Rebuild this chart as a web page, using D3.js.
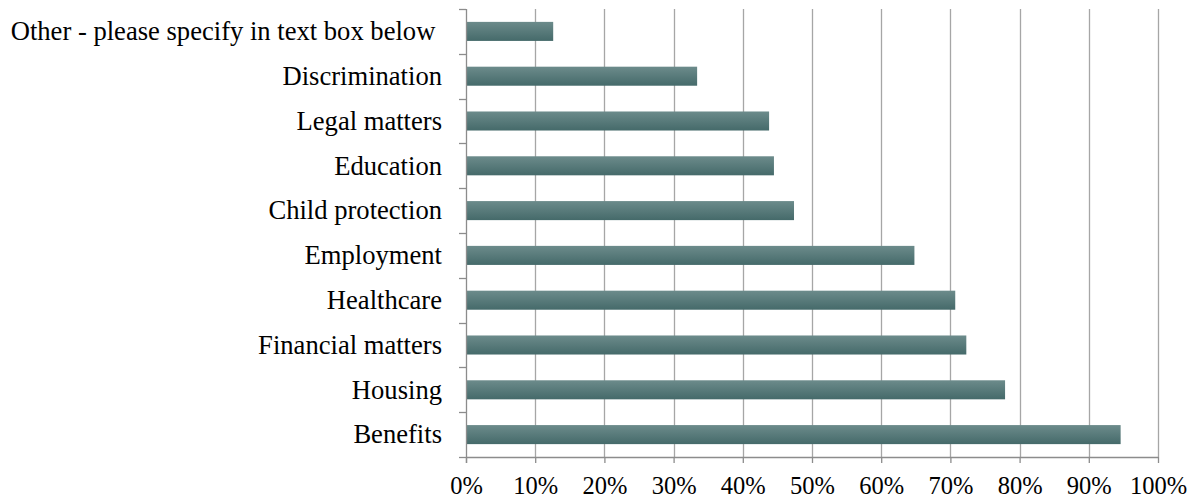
<!DOCTYPE html>
<html>
<head>
<meta charset="utf-8">
<script src="https://cdn.jsdelivr.net/npm/d3@7"></script>
<style>
  html, body { margin: 0; padding: 0; background: #fff; }
  svg text { font-family: "Liberation Serif", "Times New Roman", serif; fill: #000; }
</style>
</head>
<body>
<svg id="chart" width="1191" height="502"></svg>
<script>
// Share of respondents selecting each area (bottom to top in the chart)
const categories = [
  "Benefits",
  "Housing",
  "Financial matters",
  "Healthcare",
  "Employment",
  "Child protection",
  "Education",
  "Legal matters",
  "Discrimination",
  "Other - please specify in text box below "
];
const values = [94.6, 77.9, 72.3, 70.7, 64.8, 47.4, 44.5, 43.8, 33.4, 12.6];
const tickValues = [0, 10, 20, 30, 40, 50, 60, 70, 80, 90, 100];

const svg = d3.select("#chart");
const margin = { left: 466, right: 33, top: 9, bottom: 45 };
const width = 1191, height = 502;
const plotW = width - margin.left - margin.right;
const plotH = height - margin.top - margin.bottom;

const x = d3.scaleLinear().domain([0, 100]).range([0, plotW]);
// Categories listed top-to-bottom: reverse so Benefits sits at the bottom
const y = d3.scaleBand()
  .domain(categories.slice().reverse())
  .range([0, plotH])
  .paddingInner(0.575)
  .paddingOuter(0.2875);

const defs = svg.append("defs");
const grad = defs.append("linearGradient")
  .attr("id", "barGrad").attr("x1", 0).attr("y1", 0).attr("x2", 0).attr("y2", 1);
grad.append("stop").attr("offset", "0%").attr("stop-color", "#6c8b8b");
grad.append("stop").attr("offset", "100%").attr("stop-color", "#456a6a");

const g = svg.append("g").attr("transform", `translate(${margin.left},${margin.top})`);

// Vertical gridlines
g.append("g")
  .selectAll("line")
  .data(tickValues.filter(d => d > 0))
  .join("line")
  .attr("x1", d => Math.round(x(d)) + 0.5)
  .attr("x2", d => Math.round(x(d)) + 0.5)
  .attr("y1", 0)
  .attr("y2", plotH)
  .attr("stroke", "#a6a6a6")
  .attr("stroke-width", 1.3);

// Bars
const data = categories.map((c, i) => ({ c, v: values[i] }));
g.append("g")
  .selectAll("rect")
  .data(data)
  .join("rect")
  .attr("x", 0)
  .attr("y", d => y(d.c))
  .attr("width", d => x(d.v))
  .attr("height", y.bandwidth())
  .attr("fill", "url(#barGrad)");

// Bottom axis
const xAxis = d3.axisBottom(x)
  .tickValues(tickValues)
  .tickFormat(d => d + "%")
  .tickSizeInner(6)
  .tickSizeOuter(0)
  .tickPadding(14);
const xg = g.append("g").attr("transform", `translate(0,${plotH})`).call(xAxis);
xg.select(".domain").attr("stroke", "#8c8c8c").attr("stroke-width", 1.3);
xg.selectAll(".tick line").attr("stroke", "#8c8c8c").attr("stroke-width", 1.3);
xg.selectAll(".tick text")
  .attr("font-size", 24.5)
  .attr("font-family", "Liberation Serif, Times New Roman, serif")
  .attr("fill", "#000");

// Left axis: ticks at category boundaries, labels centred on bands
const step = plotH / categories.length;
const yg = g.append("g");
yg.append("line")
  .attr("x1", 0.5).attr("x2", 0.5)
  .attr("y1", 0).attr("y2", plotH + 6)
  .attr("stroke", "#8c8c8c").attr("stroke-width", 1.3);
yg.selectAll("line.tick")
  .data(d3.range(categories.length + 1))
  .join("line")
  .attr("class", "tick")
  .attr("x1", -7).attr("x2", 0)
  .attr("y1", i => Math.round(i * step) + 0.5)
  .attr("y2", i => Math.round(i * step) + 0.5)
  .attr("stroke", "#8c8c8c").attr("stroke-width", 1.3);

yg.selectAll("text")
  .data(data)
  .join("text")
  .attr("x", -24)
  .attr("y", d => y(d.c) + y.bandwidth() / 2)
  .attr("dy", "0.33em")
  .attr("text-anchor", "end")
  .attr("font-size", 26.6)
  .style("white-space", "pre")
  .text(d => d.c);
</script>
</body>
</html>
